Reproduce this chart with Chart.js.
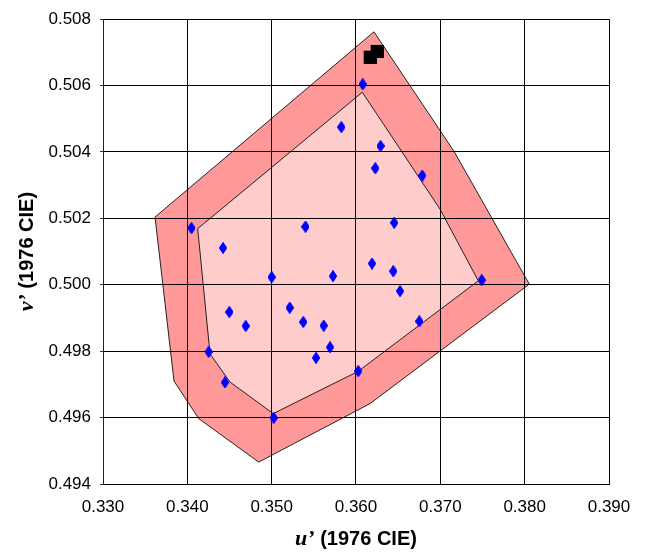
<!DOCTYPE html>
<html>
<head>
<meta charset="utf-8">
<script src="https://cdn.jsdelivr.net/npm/chart.js@4/dist/chart.umd.min.js"></script>
<style>
html,body{margin:0;padding:0;background:#fff;}
canvas{display:block;}
</style>
</head>
<body>
<canvas id="c" width="647" height="552"></canvas>
<script>
// ---- data ----
const xTicks = [0.330, 0.340, 0.350, 0.360, 0.370, 0.380, 0.390];
const yTicks = [0.494, 0.496, 0.498, 0.500, 0.502, 0.504, 0.506, 0.508];

const outerU = [0.36213, 0.37162, 0.38055, 0.36166, 0.34846, 0.34135, 0.33842, 0.33617, 0.36213];
const outerV = [0.50762, 0.50402, 0.50002, 0.49642, 0.49466, 0.49597, 0.49710, 0.50204, 0.50762];

const innerU = [0.36075, 0.36996, 0.37450, 0.36024, 0.35019, 0.34506, 0.34269, 0.34123, 0.36075];
const innerV = [0.50580, 0.50228, 0.50012, 0.49739, 0.49612, 0.49707, 0.49792, 0.50169, 0.50580];

const sampleU = [0.36080, 0.35826, 0.36291, 0.36229, 0.36786, 0.36453, 0.34049, 0.35401, 0.34423,
                 0.35000, 0.35727, 0.36190, 0.36442, 0.36522, 0.37491, 0.34498, 0.34692, 0.35214,
                 0.35375, 0.35617, 0.35692, 0.35526, 0.34253, 0.36751, 0.36027, 0.34447, 0.35024];
const sampleV = [0.50604, 0.50475, 0.50418, 0.50351, 0.50329, 0.50187, 0.50171, 0.50175, 0.50111,
                 0.50023, 0.50026, 0.50064, 0.50041, 0.49981, 0.50014, 0.49918, 0.49876, 0.49931,
                 0.49888, 0.49877, 0.49812, 0.49780, 0.49798, 0.49890, 0.49740, 0.49706, 0.49599];

const targetU = [0.36170, 0.36253];
const targetV = [0.50685, 0.50703];

const pts = (us, vs) => us.map((u, i) => ({x: u, y: vs[i]}));

// diamond marker
const dia = document.createElement('canvas');
dia.width = 8; dia.height = 12;
(function(){
  const g = dia.getContext('2d');
  g.fillStyle = '#0000FF';
  g.beginPath();
  g.moveTo(4, 0); g.lineTo(8, 6); g.lineTo(4, 12); g.lineTo(0, 6); g.closePath();
  g.fill();
})();

const redrawMarkers = {
  id: 'redrawMarkers',
  afterDraw(chart) {
    const ctx = chart.ctx;
    [1, 0].forEach(i => {
      const meta = chart.getDatasetMeta(i);
      ctx.save();
      meta.controller.draw();
      ctx.restore();
    });
  }
};

const axisTitles = {
  id: 'axisTitles',
  afterDraw(chart) {
    const ctx = chart.ctx;
    const a = chart.chartArea;
    const parts = (sym) => [
      {t: sym, f: 'bold italic 22px "Liberation Serif"'},
      {t: ' (1976 CIE)', f: 'bold 20px "Liberation Sans"'}
    ];
    function drawParts(ps, cx, cy, rot) {
      ctx.save();
      ctx.translate(cx, cy);
      ctx.rotate(rot);
      ctx.fillStyle = '#000';
      ctx.textBaseline = 'alphabetic';
      ctx.textAlign = 'left';
      let w = 0;
      ps.forEach(p => { ctx.font = p.f; w += ctx.measureText(p.t).width; });
      let x = -w / 2;
      ps.forEach(p => { ctx.font = p.f; ctx.fillText(p.t, x, 0); x += ctx.measureText(p.t).width; });
      ctx.restore();
    }
    drawParts(parts('u\u2019'), (a.left + a.right) / 2, 545, 0);
    drawParts(parts('v\u2019'), 33, (a.top + a.bottom) / 2, -Math.PI / 2);
  }
};

new Chart(document.getElementById('c'), {
  type: 'scatter',
  data: {
    datasets: [
      {
        label: 'samples',
        data: pts(sampleU, sampleV),
        pointStyle: dia,
        pointRadius: 5,
        showLine: false,
        order: 0
      },
      {
        label: 'target',
        data: pts(targetU, targetV),
        pointStyle: 'rect',
        pointRadius: 9.2,
        backgroundColor: '#000000',
        borderColor: '#000000',
        borderWidth: 0,
        showLine: false,
        order: 1
      },
      {
        label: 'inner',
        data: pts(innerU, innerV),
        showLine: true,
        fill: 'shape',
        backgroundColor: '#FFCCCC',
        borderColor: '#222222',
        borderWidth: 1,
        pointRadius: 0,
        tension: 0,
        order: 2
      },
      {
        label: 'outer',
        data: pts(outerU, outerV),
        showLine: true,
        fill: 'shape',
        backgroundColor: '#FF9999',
        borderColor: '#222222',
        borderWidth: 1,
        pointRadius: 0,
        tension: 0,
        order: 3
      }
    ]
  },
  options: {
    responsive: false,
    devicePixelRatio: 1,
    animation: false,
    layout: { padding: { left: 0, top: 17, right: 38, bottom: 0 } },
    plugins: { legend: { display: false }, tooltip: { enabled: false } },
    scales: {
      x: {
        type: 'linear',
        min: 0.330, max: 0.390,
        z: 1,
        afterBuildTicks: s => { s.ticks = xTicks.map(v => ({value: v})); },
        afterFit: s => { s.height = 68; },
        ticks: {
          padding: 13,
          color: '#000',
          font: { family: '"Liberation Sans", Arial, sans-serif', size: 17 },
          callback: v => Number(v).toFixed(3),
          maxRotation: 0, autoSkip: false
        },
        grid: { color: '#000', lineWidth: 1, drawTicks: false, z: 1 },
        border: { display: true, color: '#222', width: 1, z: 1 }
      },
      y: {
        type: 'linear',
        min: 0.494, max: 0.508,
        z: 1,
        afterBuildTicks: s => { s.ticks = yTicks.map(v => ({value: v})); },
        afterFit: s => { s.width = 103; },
        ticks: {
          padding: 9,
          color: '#000',
          font: { family: '"Liberation Sans", Arial, sans-serif', size: 17 },
          callback: v => Number(v).toFixed(3),
          autoSkip: false
        },
        grid: { color: '#000', lineWidth: 1, drawTicks: true, tickLength: 3, tickColor: '#333', z: 1 },
        border: { display: true, color: '#222', width: 1, z: 1 }
      }
    }
  },
  plugins: [redrawMarkers, axisTitles]
});
</script>
</body>
</html>
